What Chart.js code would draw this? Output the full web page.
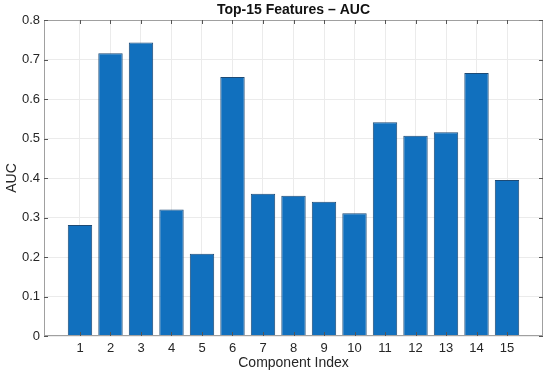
<!DOCTYPE html>
<html lang="en">
<head>
    <meta charset="UTF-8">
    <title>Top-15 Features - AUC</title>
    <script src="https://cdn.jsdelivr.net/npm/chart.js"></script>
    <style>
        body { margin: 0; background: #fff; }
    </style>
</head>
<body>
    <canvas id="myChart" width="550" height="378"></canvas>
    <script>
        // component index (x) and AUC value
        const components = [1, 2, 3, 4, 5, 6, 7, 8, 9, 10, 11, 12, 13, 14, 15];
        const aucValues = [0.281, 0.716, 0.743, 0.320, 0.208, 0.656, 0.360, 0.355, 0.340, 0.311, 0.541, 0.507, 0.516, 0.666, 0.395];
        const yTicks = [0, 0.1, 0.2, 0.3, 0.4, 0.5, 0.6, 0.7, 0.8];
        const titleText = 'Top-15 Features – AUC';

        const fontFam = "'Liberation Sans', Arial, Helvetica, sans-serif";
        const txtColor = '#262626';

        // box round the plot + ticks pointing inward (matlab look), title centred on the axes
        const boxPlugin = {
            id: 'box',
            afterDatasetsDraw(chart) {
                const { ctx, chartArea: a, scales } = chart;
                ctx.save();
                ctx.strokeStyle = '#a0a0a0';
                ctx.lineWidth = 1;
                ctx.strokeRect(a.left + 0.5, a.top + 0.5, a.right - a.left - 1, a.bottom - a.top - 1);
                ctx.strokeStyle = '#555';
                ctx.beginPath();
                components.forEach(v => {
                    const x = Math.round(scales.x.getPixelForValue(v)) + 0.5;
                    ctx.moveTo(x, a.bottom); ctx.lineTo(x, a.bottom - 4);
                    ctx.moveTo(x, a.top); ctx.lineTo(x, a.top + 4);
                });
                yTicks.forEach(v => {
                    const y = Math.round(scales.y.getPixelForValue(v)) + 0.5;
                    ctx.moveTo(a.left, y); ctx.lineTo(a.left + 4, y);
                    ctx.moveTo(a.right, y); ctx.lineTo(a.right - 4, y);
                });
                ctx.stroke();

                ctx.fillStyle = '#111';
                ctx.font = 'bold 14px ' + fontFam;
                ctx.textAlign = 'center';
                ctx.textBaseline = 'middle';
                ctx.fillText(titleText, (a.left + a.right) / 2, 10);
                ctx.restore();
            }
        };

        const ctx = document.querySelector('#myChart');
        const aucChart = new Chart(ctx, {
            type: 'bar',
            data: {
                datasets: [{
                    label: 'AUC',
                    data: components.map((c, i) => ({ x: c, y: aucValues[i] })),
                    backgroundColor: '#1170be',
                    borderColor: '#1d4a75',
                    borderWidth: 1,
                    barPercentage: 0.8,
                    categoryPercentage: 1
                }]
            },
            options: {
                responsive: false,
                animation: false,
                layout: { padding: { top: 20, right: 7, left: 0, bottom: 0 } },
                plugins: {
                    legend: { display: false },
                    tooltip: { enabled: false },
                    title: { display: false }
                },
                scales: {
                    x: {
                        type: 'linear',
                        offset: false,
                        min: -0.18,
                        max: 16.18,
                        afterBuildTicks: s => { s.ticks = components.map(v => ({ value: v })); },
                        afterFit: s => { s.height = 42; },
                        grid: { color: '#ebebeb', drawTicks: false, offset: false },
                        border: { display: false },
                        ticks: {
                            color: txtColor,
                            padding: 5,
                            maxRotation: 0,
                            font: { family: fontFam, size: 13 }
                        },
                        title: {
                            display: true,
                            text: 'Component Index',
                            color: txtColor,
                            font: { family: fontFam, size: 14 },
                            padding: { top: 0, bottom: 6 }
                        }
                    },
                    y: {
                        min: 0,
                        max: 0.8,
                        afterBuildTicks: s => { s.ticks = yTicks.map(v => ({ value: v })); },
                        afterFit: s => { s.width = 44; },
                        grid: { color: '#ebebeb', drawTicks: false },
                        border: { display: false },
                        ticks: {
                            color: txtColor,
                            padding: 4,
                            callback: v => String(+v.toFixed(1)),
                            font: { family: fontFam, size: 13 }
                        },
                        title: {
                            display: true,
                            text: 'AUC',
                            color: txtColor,
                            font: { family: fontFam, size: 14 },
                            padding: { top: 4, bottom: 0 }
                        }
                    }
                }
            },
            plugins: [boxPlugin]
        });
    </script>
</body>
</html>
